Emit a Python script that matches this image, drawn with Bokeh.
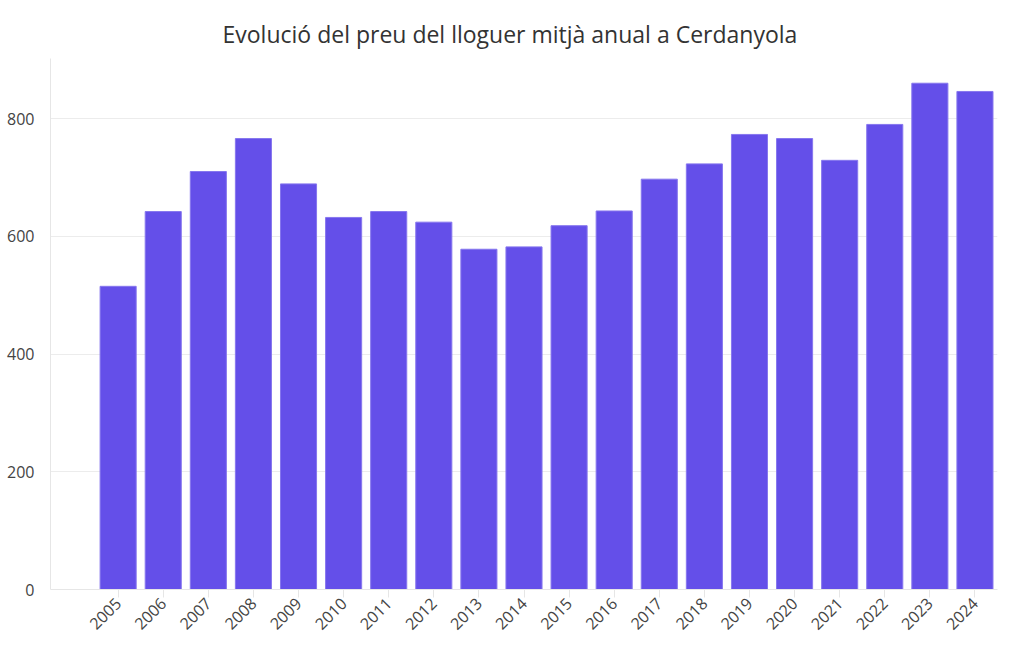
import math
from bokeh.plotting import figure
from bokeh.models import ColumnDataSource, FixedTicker, Range1d
from bokeh.embed import file_html
from bokeh.resources import INLINE

years = list(range(2005, 2025))
prices = [515, 642, 710, 766, 689, 632, 642, 624, 578, 582,
          618, 643, 697, 723, 773, 766, 729, 790, 860, 846]
y_ticks = [0, 200, 400, 600, 800]

FONT = "Open Sans"

src = ColumnDataSource(dict(year=years, price=prices))

p = figure(width=1012, height=640, output_backend="svg", toolbar_location=None,
           x_range=Range1d(2003.5, 2024.5), y_range=Range1d(0, 902),
           min_border_left=50, min_border_right=15, min_border_bottom=51,
           min_border_top=58)

p.vbar(x="year", top="price", width=0.8, source=src,
       fill_color="#644FE9", line_color="#8676EE", line_width=1)

p.title.text = "Evolució del preu del lloguer mitjà anual a Cerdanyola"
p.title.align = "left"
p.title.offset = 172
p.title.text_font = FONT
p.title.text_font_size = "23px"
p.title.text_font_style = "normal"
p.title.text_color = "#333333"
p.title.standoff = 18

p.xaxis.ticker = FixedTicker(ticks=years)
p.xaxis.major_label_orientation = math.pi / 4
p.yaxis.ticker = FixedTicker(ticks=y_ticks)

for ax in (p.xaxis, p.yaxis):
    ax.major_label_text_font = FONT
    ax.major_label_text_color = "#444444"
    ax.minor_tick_line_color = None
    ax.axis_line_color = "#e6e6e6"
p.yaxis.major_tick_line_color = None
p.xaxis.major_tick_line_color = "#e6e6e6"
p.xaxis.major_tick_in = 0
p.xaxis.major_tick_out = 8
p.xaxis.major_label_text_font_size = "16px"
p.yaxis.major_label_text_font_size = "16px"
p.xaxis.major_label_standoff = 3
p.yaxis.major_label_standoff = 10

p.xgrid.grid_line_color = None
p.ygrid.grid_line_color = "#ececec"
p.outline_line_color = None

open("out.html", "w").write(file_html(p, INLINE))
